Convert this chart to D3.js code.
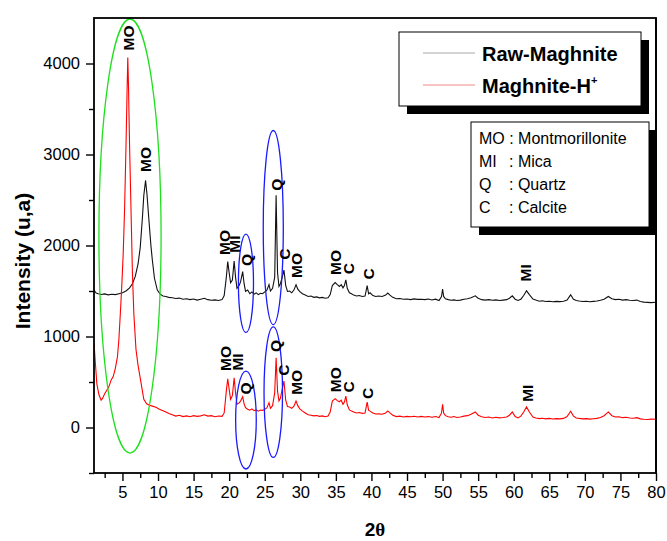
<!DOCTYPE html>
<html>
<head>
<meta charset="utf-8">
<script src="https://cdn.jsdelivr.net/npm/d3@7"></script>
<style>
    body { margin: 0; background: #fff; }
    text { font-family: "Liberation Sans", Arial, sans-serif; }
</style>
</head>
<body>
<div id="container"></div>
<script>
// raw maghnite pattern [2theta, intensity]
var rawMaghnite = [
    [1.0, 1510], [1.3, 1478], [1.6, 1470], [2.0, 1462], [2.5, 1468], [3.0, 1458], [3.5, 1465], [4.0, 1460],
    [4.5, 1470], [5.0, 1480], [5.5, 1500], [6.0, 1535], [6.4, 1580], [6.8, 1660], [7.2, 1800], [7.5, 1980],
    [7.8, 2300], [8.0, 2550], [8.25, 2715], [8.45, 2560], [8.7, 2300], [9.0, 2000], [9.2, 1840], [9.5, 1640],
    [9.9, 1510], [10.3, 1465], [10.7, 1445], [11.1, 1440], [11.5, 1430], [12.0, 1425], [12.5, 1418], [13.0, 1422],
    [13.5, 1410], [14.0, 1415], [14.5, 1405], [15.0, 1412], [15.5, 1400], [16.0, 1410], [16.5, 1420], [17.0, 1405],
    [17.5, 1398], [18.0, 1402], [18.5, 1395], [19.0, 1405], [19.3, 1450], [19.6, 1650], [19.8, 1823], [20.0, 1700],
    [20.2, 1590], [20.45, 1620], [20.7, 1830], [20.9, 1650], [21.1, 1530], [21.4, 1560], [21.6, 1600], [21.9, 1713],
    [22.1, 1580], [22.3, 1495], [22.6, 1510], [22.9, 1470], [23.2, 1490], [23.5, 1465], [23.8, 1480], [24.1, 1460],
    [24.4, 1475], [24.7, 1470], [25.0, 1490], [25.3, 1510], [25.6, 1570], [25.8, 1500], [26.1, 1530], [26.4, 1650],
    [26.6, 2552], [26.8, 1700], [27.0, 1550], [27.2, 1580], [27.45, 1650], [27.7, 1730], [27.95, 1560], [28.2, 1495],
    [28.5, 1500], [28.8, 1480], [29.1, 1510], [29.4, 1568], [29.65, 1520], [29.9, 1495], [30.3, 1470], [30.7, 1455],
    [31.1, 1440], [31.5, 1445], [31.9, 1430], [32.3, 1435], [32.7, 1425], [33.1, 1430], [33.5, 1420], [33.9, 1425],
    [34.2, 1460], [34.5, 1560], [34.9, 1593], [35.2, 1570], [35.5, 1550], [35.75, 1570], [36.0, 1535], [36.2, 1560],
    [36.4, 1622], [36.6, 1530], [36.9, 1480], [37.2, 1470], [37.5, 1455], [37.9, 1445], [38.3, 1450], [38.7, 1440],
    [39.1, 1445], [39.4, 1560], [39.6, 1470], [39.8, 1480], [40.2, 1450], [40.6, 1440], [41.0, 1445], [41.5, 1440],
    [42.0, 1455], [42.3, 1477], [42.6, 1455], [43.0, 1430], [43.5, 1415], [44.0, 1418], [44.5, 1410], [45.0, 1412],
    [45.5, 1405], [46.0, 1413], [46.5, 1408], [47.0, 1410], [47.5, 1405], [48.0, 1412], [48.5, 1402], [49.0, 1410],
    [49.5, 1395], [49.85, 1440], [50.0, 1520], [50.15, 1440], [50.4, 1415], [50.8, 1405], [51.2, 1398], [51.6, 1402],
    [52.0, 1395], [52.5, 1400], [53.0, 1410], [53.5, 1415], [54.0, 1425], [54.6, 1447], [55.0, 1420], [55.5, 1405],
    [56.0, 1400], [56.5, 1405], [57.0, 1398], [57.5, 1402], [58.0, 1395], [58.5, 1400], [59.0, 1405], [59.4, 1420],
    [59.8, 1447], [60.2, 1410], [60.6, 1396], [61.0, 1410], [61.4, 1450], [61.8, 1502], [62.2, 1460], [62.7, 1411],
    [63.1, 1400], [63.6, 1388], [64.0, 1392], [64.5, 1385], [65.0, 1388], [65.5, 1382], [66.0, 1386], [66.5, 1383],
    [67.0, 1388], [67.5, 1400], [68.0, 1458], [68.4, 1410], [68.8, 1396], [69.2, 1390], [69.7, 1384], [70.2, 1388],
    [70.7, 1382], [71.2, 1386], [71.7, 1390], [72.2, 1398], [72.7, 1410], [73.3, 1440], [73.8, 1415], [74.3, 1405],
    [74.8, 1410], [75.3, 1400], [75.8, 1405], [76.3, 1398], [76.8, 1395], [77.3, 1400], [77.8, 1385], [78.3, 1378],
    [78.8, 1375], [79.3, 1372], [80.0, 1376]
]

// acid activated maghnite pattern [2theta, intensity]
var maghniteH = [
    [1.0, 930], [1.2, 700], [1.4, 480], [1.7, 360], [2.0, 300], [2.2, 320], [2.5, 370], [2.8, 410],
    [3.1, 450], [3.4, 520], [3.7, 560], [4.0, 650], [4.3, 780], [4.5, 970], [4.7, 1250], [4.9, 1550],
    [5.1, 1900], [5.3, 2400], [5.5, 3100], [5.65, 3700], [5.75, 4066], [5.85, 3750], [6.0, 3100], [6.2, 2400],
    [6.4, 1700], [6.6, 1250], [6.9, 860], [7.2, 680], [7.6, 495], [8.0, 310], [8.4, 260], [8.8, 245],
    [9.2, 235], [9.7, 222], [10.2, 200], [10.7, 185], [11.1, 170], [11.6, 150], [12.0, 140], [12.5, 125],
    [13.0, 135], [13.5, 120], [14.0, 128], [14.5, 118], [15.0, 130], [15.5, 122], [16.0, 128], [16.5, 140],
    [17.0, 125], [17.5, 130], [18.0, 118], [18.5, 126], [19.0, 122], [19.3, 160], [19.6, 400], [19.8, 536],
    [20.0, 420], [20.2, 310], [20.45, 350], [20.7, 547], [20.9, 380], [21.1, 255], [21.4, 270], [21.6, 290],
    [21.9, 339], [22.1, 260], [22.3, 219], [22.6, 200], [22.9, 190], [23.2, 205], [23.5, 185], [23.8, 195],
    [24.1, 180], [24.4, 192], [24.7, 188], [25.0, 200], [25.3, 215], [25.6, 273], [25.8, 210], [26.1, 240],
    [26.4, 380], [26.6, 766], [26.8, 400], [27.0, 291], [27.2, 320], [27.45, 420], [27.7, 510], [27.95, 300],
    [28.2, 230], [28.5, 225], [28.8, 210], [29.1, 235], [29.4, 291], [29.65, 240], [29.9, 208], [30.3, 180],
    [30.7, 160], [31.1, 140], [31.5, 135], [31.9, 128], [32.3, 132], [32.7, 122], [33.1, 128], [33.5, 118],
    [33.9, 125], [34.2, 170], [34.5, 290], [34.9, 317], [35.2, 295], [35.5, 283], [35.75, 300], [36.0, 255],
    [36.2, 280], [36.4, 346], [36.6, 250], [36.9, 193], [37.2, 180], [37.5, 170], [37.9, 160], [38.3, 165],
    [38.7, 155], [39.1, 160], [39.4, 280], [39.6, 190], [39.8, 180], [40.2, 160], [40.6, 148], [41.0, 150],
    [41.5, 145], [42.0, 160], [42.3, 182], [42.6, 160], [43.0, 135], [43.5, 120], [44.0, 125], [44.5, 115],
    [45.0, 122], [45.5, 118], [46.0, 124], [46.5, 116], [47.0, 122], [47.5, 115], [48.0, 120], [48.5, 112],
    [49.0, 120], [49.5, 110], [49.85, 160], [50.0, 255], [50.15, 160], [50.4, 130], [50.8, 118], [51.2, 112],
    [51.6, 120], [52.0, 110], [52.5, 115], [53.0, 125], [53.5, 130], [54.0, 145], [54.6, 171], [55.0, 135],
    [55.5, 118], [56.0, 110], [56.5, 115], [57.0, 105], [57.5, 112], [58.0, 106], [58.5, 110], [59.0, 115],
    [59.4, 135], [59.8, 171], [60.2, 120], [60.6, 105], [61.0, 125], [61.4, 170], [61.8, 226], [62.2, 170],
    [62.7, 115], [63.1, 105], [63.6, 98], [64.0, 102], [64.5, 95], [65.0, 100], [65.5, 94], [66.0, 98],
    [66.5, 95], [67.0, 100], [67.5, 120], [68.0, 178], [68.4, 125], [68.8, 105], [69.2, 100], [69.7, 95],
    [70.2, 98], [70.7, 92], [71.2, 96], [71.7, 100], [72.2, 110], [72.7, 130], [73.3, 171], [73.8, 130],
    [74.3, 115], [74.8, 118], [75.3, 108], [75.8, 112], [76.3, 105], [76.8, 102], [77.3, 108], [77.8, 95],
    [78.3, 90], [78.8, 88], [79.3, 92], [80.0, 90]
]

// phase labels [text, 2theta, intensity] (rotated)
var rawLabels = [
    ['MO', 5.9, 4281], ['MO', 8.26, 2946], ['MO', 19.3, 2033], ['MI', 20.8, 2016], ['Q', 22.4, 1841],
    ['Q', 26.6, 2667], ['C', 27.7, 1906], ['MO', 29.5, 1781], ['MO', 34.9, 1814], ['C', 36.7, 1745],
    ['C', 39.6, 1688], ['MI', 61.7, 1699]
]
var acidLabels = [
    ['MO', 19.5, 758], ['MI', 21.1, 720], ['Q', 22.3, 430], ['Q', 26.5, 895], ['C', 27.6, 629],
    ['MO', 29.4, 496], ['MO', 34.9, 525], ['C', 36.8, 446], ['C', 39.4, 375], ['MI', 61.9, 377]
]

// highlight ellipses [2theta centre, intensity centre, 2theta radius, intensity radius]
var greenEllipses = [[6.06, 2104, 4.37, 2385]]
var blueEllipses = [[22.36, 1584, 1.06, 542], [26.2, 2197, 1.41, 1067], [22.36, 82, 1.45, 538], [26.2, 388, 1.3, 717]]

var seriesNames = ['Raw-Maghnite', 'Maghnite-H']
var phaseCodes = ['MO', 'MI', 'Q', 'C']
var phaseNames = ['Montmorillonite', 'Mica', 'Quartz', 'Calcite']

var xTicks = d3.range(5, 81, 5)
var xMinor = d3.range(2.5, 80, 5)
var yTicks = [0, 1000, 2000, 3000, 4000]
var yMinor = [-500, 500, 1500, 2500, 3500]

// dimensions
var W = 667, H = 541
var margin = { top: 18, right: 11, bottom: 68, left: 94 },
    width = W - margin.left - margin.right,
    height = H - margin.top - margin.bottom

var svg = d3
    .select('#container')
    .append('svg')
    .attr('width', W)
    .attr('height', H)
    .style('background', '#fff')

var g = svg.append('g').attr('transform', 'translate(' + margin.left + ',' + margin.top + ')')

var x = d3.scaleLinear().domain([1, 80]).range([0, width])
var y = d3.scaleLinear().domain([-500, 4500]).range([height, 0])

g.append('clipPath')
    .attr('id', 'plot')
    .append('rect')
    .attr('width', width)
    .attr('height', height)

var line = d3
    .line()
    .x(function(d) { return x(d[0]) })
    .y(function(d) { return y(d[1]) })

var plot = g.append('g').attr('clip-path', 'url(#plot)')

plot.append('path')
    .datum(rawMaghnite)
    .attr('d', line)
    .attr('fill', 'none')
    .attr('stroke', '#111')
    .attr('stroke-width', 1.1)

plot.append('path')
    .datum(maghniteH)
    .attr('d', line)
    .attr('fill', 'none')
    .attr('stroke', '#f00')
    .attr('stroke-width', 1.1)

// ellipses
function drawEllipses(data, colour) {
    plot.selectAll(null)
        .data(data)
        .enter()
        .append('ellipse')
        .attr('cx', function(d) { return x(d[0]) })
        .attr('cy', function(d) { return y(d[1]) })
        .attr('rx', function(d) { return x(d[0] + d[2]) - x(d[0]) })
        .attr('ry', function(d) { return y(0) - y(d[3]) })
        .attr('fill', 'none')
        .attr('stroke', colour)
        .attr('stroke-width', 1.3)
}
drawEllipses(greenEllipses, '#1ee01e')
drawEllipses(blueEllipses, '#1a1aff')

// rotated phase labels
function drawLabels(data) {
    g.selectAll(null)
        .data(data)
        .enter()
        .append('text')
        .attr('transform', function(d) {
            return 'translate(' + x(d[1]) + ',' + y(d[2]) + ') rotate(-90)'
        })
        .attr('text-anchor', 'middle')
        .attr('dy', '0.36em')
        .style('font-size', '15.5px')
        .style('font-weight', 'bold')
        .text(function(d) { return d[0] })
}
drawLabels(rawLabels)
drawLabels(acidLabels)

// axes
g.append('g')
    .attr('transform', 'translate(0,' + height + ')')
    .call(d3.axisBottom(x).tickValues(xTicks).tickSize(8).tickSizeOuter(0).tickPadding(5).tickFormat(d3.format('d')))
g.append('g')
    .attr('transform', 'translate(0,' + height + ')')
    .call(d3.axisBottom(x).tickValues(xMinor).tickSize(5).tickSizeOuter(0).tickFormat(''))
g.append('g')
    .call(d3.axisLeft(y).tickValues(yTicks).tickSize(8).tickSizeOuter(0).tickPadding(6).tickFormat(d3.format('d')))
g.append('g')
    .call(d3.axisLeft(y).tickValues(yMinor).tickSize(5).tickSizeOuter(0).tickFormat(''))

g.selectAll('.domain').remove()
g.selectAll('.tick line').attr('stroke', '#000').attr('stroke-width', 1.4)
g.selectAll('.tick text')
    .style('font-family', '"Liberation Sans", Arial, sans-serif')
    .style('font-size', '16.5px')
    .attr('fill', '#000')

// frame
g.append('rect')
    .attr('width', width)
    .attr('height', height)
    .attr('fill', 'none')
    .attr('stroke', '#000')
    .attr('stroke-width', 1.8)

// axis titles
svg.append('text')
    .attr('transform', 'translate(30,261) rotate(-90)')
    .attr('text-anchor', 'middle')
    .style('font-size', '21px')
    .style('font-weight', 'bold')
    .text('Intensity (u,a)')

var xTitle = svg.append('text')
    .attr('x', margin.left + width / 2)
    .attr('y', 536)
    .attr('text-anchor', 'middle')
    .style('font-size', '19px')
    .style('font-weight', 'bold')
xTitle.append('tspan').text('2')
xTitle.append('tspan').style('font-family', '"Liberation Serif", "DejaVu Serif", serif').text('\u03b8')

// series legend
var leg = svg.append('g')
leg.append('rect').attr('x', 407).attr('y', 40).attr('width', 242).attr('height', 74).attr('fill', '#000')
leg.append('rect').attr('x', 399).attr('y', 32).attr('width', 242).attr('height', 74)
    .attr('fill', '#fff').attr('stroke', '#000').attr('stroke-width', 1)

var legColours = ['#a8a8a8', '#f08a8a']
seriesNames.forEach(function(name, i) {
    leg.append('line')
        .attr('x1', 423).attr('x2', 475)
        .attr('y1', 53 + i * 32).attr('y2', 53 + i * 32)
        .attr('stroke', legColours[i])
        .attr('stroke-width', 1)
    var t = leg.append('text')
        .attr('x', 482)
        .attr('y', 61 + i * 32)
        .style('font-size', '20px')
        .style('font-weight', 'bold')
        .text(name)
    if (i == 1) {
        t.append('tspan').attr('dy', -9).style('font-size', '11px').text('+')
    }
})

// phase key
var key = svg.append('g')
key.append('rect').attr('x', 479).attr('y', 130).attr('width', 178).attr('height', 105).attr('fill', '#000')
key.append('rect').attr('x', 471).attr('y', 122).attr('width', 178).attr('height', 105)
    .attr('fill', '#fff').attr('stroke', '#000').attr('stroke-width', 1)

phaseCodes.forEach(function(code, i) {
    if (i == 0) {
        // first row fits in one run
        key.append('text')
            .attr('x', 479)
            .attr('y', 144)
            .style('font-size', '16px')
            .text(code + ' : ' + phaseNames[i])
        return
    }
    key.append('text')
        .attr('x', 479)
        .attr('y', 144 + i * 23)
        .style('font-size', '16px')
        .text(code)
    key.append('text')
        .attr('x', 509)
        .attr('y', 144 + i * 23)
        .style('font-size', '16px')
        .text(': ' + phaseNames[i])
})

// redraw right frame edge over key shadow
g.append('line')
    .attr('x1', width).attr('x2', width)
    .attr('y1', 0).attr('y2', height)
    .attr('stroke', '#000')
    .attr('stroke-width', 1.8)
</script>
</body>
</html>
